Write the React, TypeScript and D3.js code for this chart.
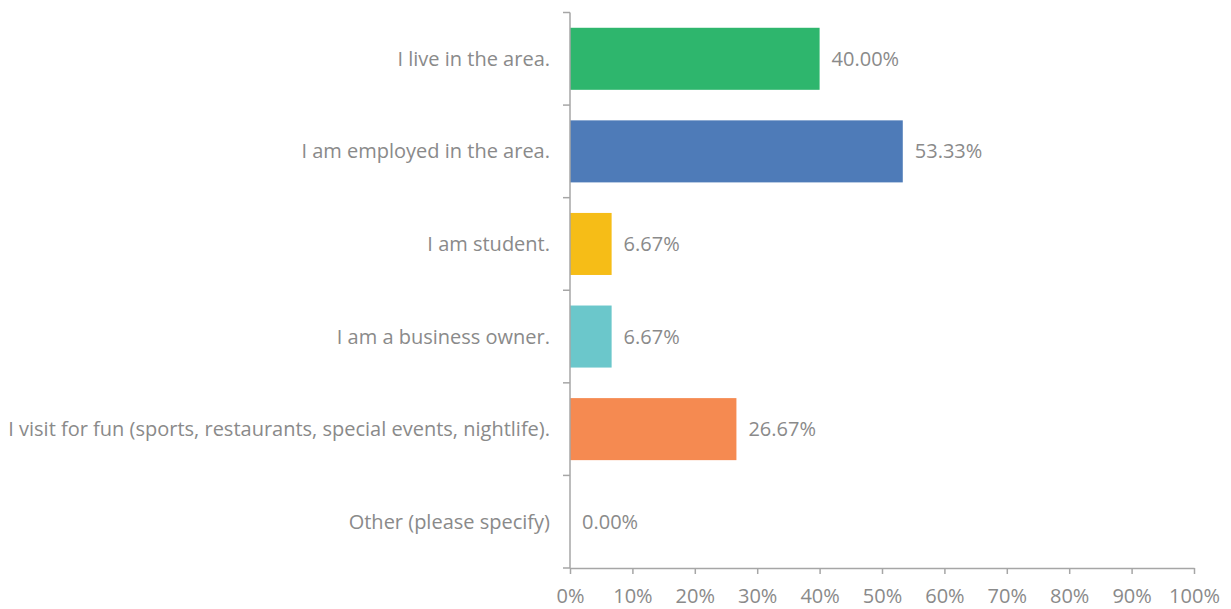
import { useEffect, useRef } from "react";
import * as d3 from "d3";

const categories = [
  "I live in the area.",
  "I am employed in the area.",
  "I am student.",
  "I am a business owner.",
  "I visit for fun (sports, restaurants, special events, nightlife).",
  "Other (please specify)",
];
const values = [40.0, 53.33, 6.67, 6.67, 26.67, 0.0];
const colors = ["#2eb66d", "#4e7bb8", "#f6bd17", "#6bc7cb", "#f58a51", "#999999"];
const xTicks = [0, 10, 20, 30, 40, 50, 60, 70, 80, 90, 100];

export default function App() {
  const svgRef = useRef<SVGSVGElement>(null);

  useEffect(() => {
    if (!svgRef.current) return;
    const width = 1231;
    const height = 609;
    const margin = { top: 12.5, right: 37, bottom: 41, left: 570 };
    const innerW = width - margin.left - margin.right;
    const innerH = height - margin.top - margin.bottom;
    const textColor = "#8a8a8a";
    const font = "'Open Sans', sans-serif";
    const fontSize = "20px";

    d3.select(svgRef.current).selectAll("*").remove();
    const svg = d3
      .select(svgRef.current)
      .attr("width", width)
      .attr("height", height)
      .append("g")
      .attr("transform", `translate(${margin.left},${margin.top})`);

    const x = d3.scaleLinear().domain([0, 100]).range([0, innerW]);
    const y = d3.scaleBand().domain(categories).range([0, innerH]).paddingInner(0.33).paddingOuter(0.165);

    // bars
    svg
      .selectAll("rect.bar")
      .data(values)
      .join("rect")
      .attr("class", "bar")
      .attr("x", 0)
      .attr("y", (_, i) => y(categories[i]) as number)
      .attr("width", (d) => x(d))
      .attr("height", y.bandwidth())
      .attr("fill", (_, i) => colors[i]);

    // value labels
    svg
      .selectAll("text.val")
      .data(values)
      .join("text")
      .attr("class", "val")
      .attr("x", (d) => x(d) + 12)
      .attr("y", (_, i) => (y(categories[i]) as number) + y.bandwidth() / 2)
      .attr("dy", "0.35em")
      .attr("fill", textColor)
      .style("font-family", font)
      .style("font-size", fontSize)
      .text((d) => d.toFixed(2) + "%");

    // category labels
    svg
      .selectAll("text.cat")
      .data(categories)
      .join("text")
      .attr("class", "cat")
      .attr("x", -20)
      .attr("y", (d) => (y(d) as number) + y.bandwidth() / 2)
      .attr("dy", "0.35em")
      .attr("text-anchor", "end")
      .attr("fill", textColor)
      .style("font-family", font)
      .style("font-size", fontSize)
      .text((d) => d);

    // y axis line + boundary ticks
    const step = innerH / categories.length;
    svg
      .append("line")
      .attr("x1", 0)
      .attr("x2", 0)
      .attr("y1", 0)
      .attr("y2", innerH)
      .attr("stroke", "#a6a6a6")
      .attr("stroke-width", 1.5);
    svg
      .selectAll("line.ytick")
      .data(d3.range(categories.length + 1))
      .join("line")
      .attr("class", "ytick")
      .attr("x1", -7)
      .attr("x2", 0)
      .attr("y1", (i) => i * step)
      .attr("y2", (i) => i * step)
      .attr("stroke", "#a6a6a6")
      .attr("stroke-width", 1.5);

    // x axis
    const xAxis = svg
      .append("g")
      .attr("transform", `translate(0,${innerH})`)
      .call(
        d3
          .axisBottom(x)
          .tickValues(xTicks)
          .tickSize(6)
          .tickSizeOuter(0)
          .tickFormat((d) => `${d}%`)
      );
    xAxis.select(".domain").attr("stroke", "#a6a6a6").attr("stroke-width", 1.5);
    xAxis.selectAll(".tick line").attr("stroke", "#a6a6a6").attr("stroke-width", 1.5);
    xAxis
      .selectAll(".tick text")
      .attr("fill", textColor)
      .attr("y", 21)
      .style("font-family", font)
      .style("font-size", fontSize);
  }, []);

  return <svg ref={svgRef} style={{ position: "absolute", left: 0, top: 0 }} />;
}
